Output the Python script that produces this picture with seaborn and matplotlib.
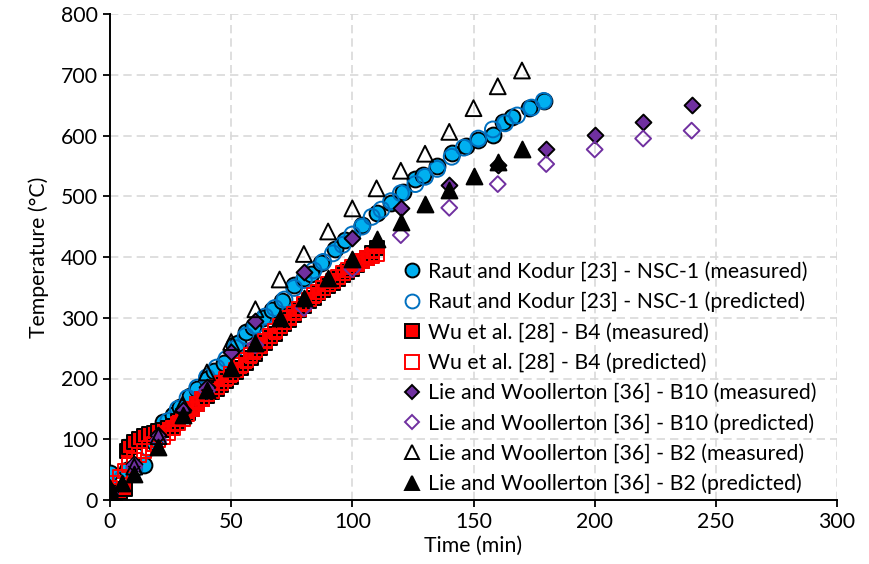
import matplotlib
matplotlib.use("Agg")
import matplotlib.pyplot as plt
import seaborn as sns
import pandas as pd
from matplotlib.lines import Line2D

# ---------------- data ----------------
raut_meas_t = [0, 7, 14, 18, 22, 26, 29, 33, 36, 40, 43, 47, 51, 53, 56, 59, 63, 67, 71, 76, 80, 83, 87,
               93, 97, 104, 110, 116, 121, 126, 129, 135, 141, 147, 152, 158, 162, 166, 173, 179]
raut_meas_T = [45, 50, 57, 95, 128, 140, 153, 172, 182, 200, 213, 225, 255, 258, 277, 285, 300, 312, 327,
               354, 365, 372, 390, 413, 428, 452, 473, 489, 507, 528, 535, 550, 571, 583, 593, 601, 623,
               630, 646, 657]

raut_pred_t = [0, 5, 10, 16, 20, 24, 28, 32, 36, 40, 44, 48, 52, 56, 60, 64, 68, 72, 76, 80, 84, 88, 92,
               96, 100, 104, 108, 112, 116, 120, 126, 130, 135, 141, 146, 152, 158, 163, 168, 174, 179]
raut_pred_T = [12, 35, 50, 85, 108, 130, 150, 168, 185, 202, 218, 232, 250, 270, 287, 302, 316, 330, 349,
               362, 378, 392, 406, 420, 437, 450, 466, 478, 492, 505, 520, 532, 545, 565, 580, 595, 610,
               620, 633, 646, 657]

wu_meas_t = [0, 2, 4, 6, 7, 8, 10, 12, 14, 16, 18, 20, 22, 24, 26, 28, 30, 32, 34, 36, 38, 40, 42, 44, 46,
             48, 50, 52, 54, 56, 58, 60, 62, 64, 66, 68, 70, 72, 74, 76, 78, 80, 82, 84, 86, 88, 90, 92,
             94, 96, 98, 100, 102, 104, 106, 108, 110]
wu_meas_T = [12, 12, 13, 18, 80, 88, 95, 100, 105, 108, 110, 113, 115, 118, 122, 130, 138, 143, 150, 158,
             166, 172, 177, 183, 190, 196, 202, 210, 218, 225, 233, 241, 250, 258, 266, 274, 283, 290,
             297, 304, 312, 320, 327, 333, 340, 346, 352, 358, 364, 370, 375, 381, 387, 393, 399, 406, 414]

wu_pred_t = [0, 2, 4, 6, 8, 10, 12, 14, 16, 18, 20, 22, 24, 26, 28, 30, 32, 34, 36, 38, 40, 42, 44, 46,
             48, 50, 52, 54, 56, 58, 60, 62, 64, 66, 68, 70, 72, 74, 76, 78, 80, 82, 84, 86, 88, 90, 92,
             94, 96, 98, 100, 102, 104, 106, 108, 110]
wu_pred_T = [20, 28, 38, 48, 58, 66, 74, 80, 86, 92, 98, 104, 110, 118, 126, 134, 142, 150, 158, 166, 174,
             180, 186, 193, 200, 207, 214, 222, 230, 238, 246, 254, 262, 270, 278, 286, 293, 300, 307,
             315, 323, 330, 337, 343, 349, 355, 361, 367, 373, 378, 384, 389, 394, 398, 402, 405]

b10_meas_t = [0, 10, 20, 30, 40, 50, 60, 80, 100, 120, 140, 160, 180, 200, 220, 240]
b10_meas_T = [16, 60, 107, 148, 186, 244, 295, 375, 431, 480, 518, 551, 577, 601, 623, 650]

b10_pred_t = [0, 10, 20, 40, 60, 80, 100, 120, 140, 160, 180, 200, 220, 240]
b10_pred_T = [10, 55, 98, 180, 255, 316, 380, 436, 481, 520, 553, 577, 595, 608]

b2_meas_t = [0, 10, 20, 30, 40, 50, 60, 70, 80, 90, 100, 110, 120, 130, 140, 150, 160, 170]
b2_meas_T = [20, 55, 105, 157, 210, 260, 314, 363, 405, 442, 480, 513, 542, 570, 606, 645, 681, 707]

b2_pred_t = [0, 5, 10, 20, 30, 40, 50, 60, 70, 80, 90, 100, 110, 120, 130, 140, 150, 160, 170]
b2_pred_T = [15, 28, 42, 88, 140, 181, 217, 258, 299, 332, 365, 396, 429, 458, 487, 511, 533, 557, 577]

labels = ["Raut and Kodur [23] - NSC-1 (measured)",
          "Raut and Kodur [23] - NSC-1 (predicted)",
          "Wu et al. [28] - B4 (measured)",
          "Wu et al. [28] - B4 (predicted)",
          "Lie and Woollerton [36] - B10 (measured)",
          "Lie and Woollerton [36] - B10 (predicted)",
          "Lie and Woollerton [36] - B2 (measured)",
          "Lie and Woollerton [36] - B2 (predicted)"]

x_ticks = [0, 50, 100, 150, 200, 250, 300]
y_ticks = [0, 100, 200, 300, 400, 500, 600, 700, 800]

# ---------------- style ----------------
sns.set_theme(style="white")
plt.rcParams['font.family'] = ['Lato', 'DejaVu Sans']
plt.rcParams['text.color'] = 'black'
plt.rcParams['axes.labelcolor'] = 'black'
FS = 15.3

fig, ax = plt.subplots(figsize=(8.69, 5.64), dpi=100)
fig.subplots_adjust(left=110/869, right=837/869, bottom=(564-500)/564, top=(564-14)/564)

BLUE = "#00B0F0"
DBLUE = "#0070C0"
RED = "#FF0000"
PURPLE = "#7030A0"

series = [
    (raut_meas_t, raut_meas_T, dict(marker="o", s=130, fc=BLUE, ec="black", lw=1.4)),
    (raut_pred_t, raut_pred_T, dict(marker="o", s=130, fc="none", ec=DBLUE, lw=1.4)),
    (wu_meas_t, wu_meas_T, dict(marker="s", s=100, fc=RED, ec="black", lw=1.4)),
    (wu_pred_t, wu_pred_T, dict(marker="s", s=100, fc="none", ec=RED, lw=1.4)),
    (b10_meas_t, b10_meas_T, dict(marker="D", s=65, fc=PURPLE, ec="black", lw=1.4)),
    (b10_pred_t, b10_pred_T, dict(marker="D", s=65, fc="none", ec=PURPLE, lw=1.4)),
    (b2_meas_t, b2_meas_T, dict(marker="^", s=130, fc="none", ec="black", lw=1.4)),
    (b2_pred_t, b2_pred_T, dict(marker="^", s=130, fc="black", ec="black", lw=1.4)),
]

handles = []
for (t, T, st), lab in zip(series, labels):
    df = pd.DataFrame({"t": t, "T": T})
    sns.scatterplot(data=df, x="t", y="T", ax=ax, marker=st["marker"], s=st["s"],
                    color=BLUE, edgecolor=st["ec"], linewidth=st["lw"], zorder=3, legend=False)
    coll = ax.collections[-1]
    coll.set_facecolor(st["fc"])
    coll.set_edgecolor(st["ec"])
    ms = {"o": 10, "s": 9.5, "D": 7.5, "^": 10}[st["marker"]]
    handles.append(Line2D([], [], linestyle="none", marker=st["marker"], markersize=ms,
                          markerfacecolor=st["fc"], markeredgecolor=st["ec"],
                          markeredgewidth=1.4, label=lab))

ax.set_xlim(0, 300)
ax.set_ylim(0, 800)
ax.set_xticks(x_ticks)
ax.set_yticks(y_ticks)
ax.tick_params(axis="both", labelsize=FS, direction="out", length=5, width=1.3, colors="black",
               labelcolor="black", bottom=True, left=True)
ax.grid(True, color="#D9D9D9", linestyle=(0, (5, 3)), linewidth=1.2, zorder=0)
ax.set_axisbelow(True)
for sp in ["top", "right"]:
    ax.spines[sp].set_visible(False)
for sp in ["left", "bottom"]:
    ax.spines[sp].set_color("black")
    ax.spines[sp].set_linewidth(1.4)

ax.set_xlabel("Time (min)", fontsize=FS, labelpad=3, color="black")
ax.set_ylabel("Temperature (°C)", fontsize=FS, labelpad=9, color="black")

leg = ax.legend(handles=handles, loc="upper left", bbox_to_anchor=(0.398, 0.49), frameon=False,
                fontsize=FS, handletextpad=0.15, labelspacing=0.47, borderaxespad=0,
                handlelength=1.2, borderpad=0)
for txt in leg.get_texts():
    txt.set_color("black")

fig.savefig("out.png", dpi=100)
